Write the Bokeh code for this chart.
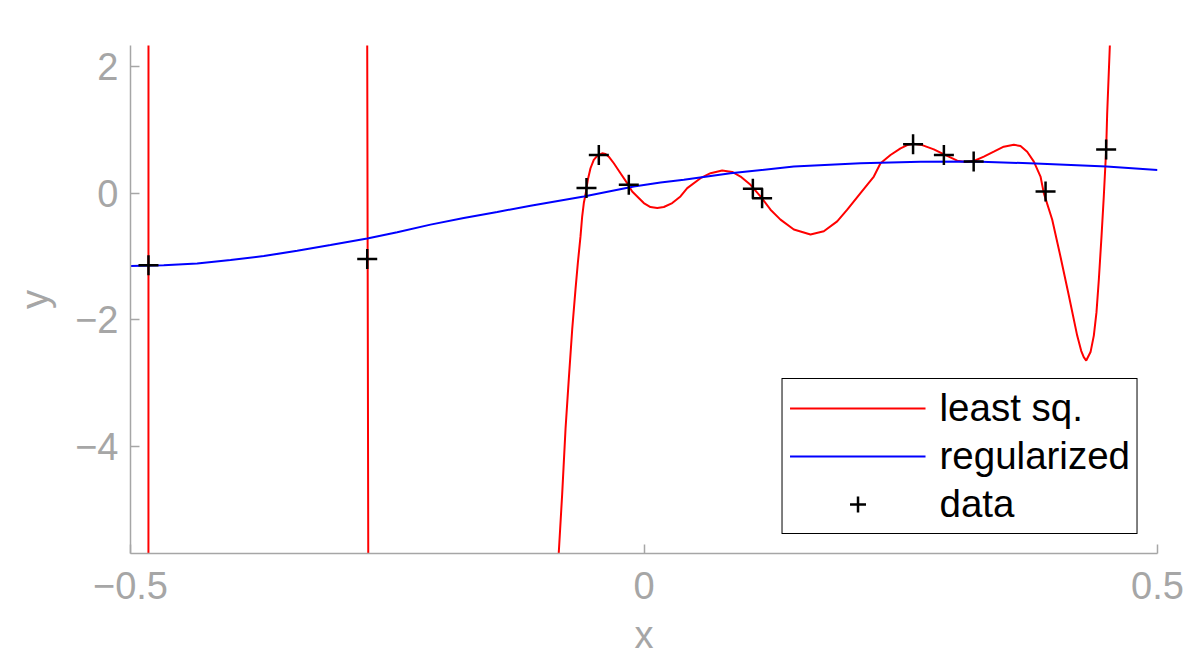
from bokeh.plotting import figure
from bokeh.models import FixedTicker, Range1d, Legend, LegendItem
from bokeh.embed import file_html
from bokeh.resources import INLINE

# ---- data ----
data_x = [-0.4825, -0.2695, -0.0560, -0.0440, -0.0148, 0.1060, 0.1150, 0.2620, 0.2920, 0.3210, 0.3910, 0.4500]
data_y = [-1.14, -1.04, 0.08, 0.60, 0.13, 0.07, -0.08, 0.77, 0.60, 0.50, 0.025, 0.69]

lsq_x = [-0.48255, -0.48245, -0.27046, -0.26796, -0.0845,
         -0.0830, -0.0797, -0.0764, -0.0732, -0.0699, -0.0667, -0.0644, -0.0618, -0.0602, -0.0586,
         -0.0570, -0.0547, -0.0521, -0.0489, -0.0456, -0.0407, -0.0375, -0.0343, -0.0294, -0.0229,
         -0.0164, -0.0115, -0.0066, -0.0002, 0.0063, 0.0129, 0.0193, 0.0275, 0.0355, 0.0421,
         0.0550, 0.0648, 0.0761, 0.0859, 0.0940, 0.1037, 0.1134, 0.1232, 0.1329, 0.1459,
         0.1621, 0.1751, 0.1881, 0.1979, 0.2108, 0.2238, 0.2303, 0.2400, 0.2498, 0.2563,
         0.2627, 0.2709, 0.2822, 0.2952, 0.3050, 0.3130, 0.3212, 0.3309, 0.3406, 0.3503,
         0.3601, 0.3666, 0.3731, 0.3796, 0.3861, 0.3893, 0.3975, 0.4055, 0.4137, 0.4218,
         0.4257, 0.4282, 0.4306, 0.4348, 0.4380, 0.4406, 0.4429, 0.4455, 0.4477, 0.4500,
         0.4510, 0.4536, 0.4560]
lsq_y = [-10.0, 10.0, 10.0, -10.0, -8.0,
         -5.68, -4.76, -3.72, -2.93, -2.15, -1.52, -1.10, -0.68, -0.37, -0.157,
         -0.027, 0.209, 0.392, 0.523, 0.586, 0.628, 0.617, 0.575, 0.471, 0.314,
         0.157, 0.025, -0.053, -0.157, -0.220, -0.236, -0.220, -0.157, -0.053, 0.078,
         0.235, 0.314, 0.355, 0.334, 0.261, 0.130, -0.053, -0.262, -0.419, -0.576,
         -0.655, -0.603, -0.446, -0.262, 0.0, 0.261, 0.471, 0.601, 0.706, 0.758,
         0.779, 0.758, 0.691, 0.586, 0.512, 0.491, 0.507, 0.575, 0.653, 0.732,
         0.763, 0.743, 0.653, 0.496, 0.261, 0.0, -0.42, -1.0, -1.62, -2.25,
         -2.49, -2.59, -2.644, -2.51, -2.25, -1.88, -1.36, -0.68, -0.053, 0.68,
         1.256, 2.33, 4.0]

reg_x = [-0.5, -0.4676, -0.4351, -0.4026, -0.3702, -0.3377, -0.3053, -0.2695, -0.2403, -0.2079,
         -0.1755, -0.1429, -0.1105, -0.0586, -0.0099, 0.0161, 0.0388, 0.0842, 0.1459, 0.2108,
         0.2692, 0.3208, 0.3812, 0.4503, 0.5]
reg_y = [-1.152, -1.141, -1.110, -1.058, -0.995, -0.910, -0.820, -0.717, -0.618, -0.498,
         -0.392, -0.299, -0.199, -0.053, 0.104, 0.166, 0.209, 0.314, 0.418, 0.471,
         0.496, 0.499, 0.468, 0.418, 0.366]

x_ticks = [-0.5, 0, 0.5]
x_tick_labels = ["\u22120.5", "0", "0.5"]
y_ticks = [-4, -2, 0, 2]
y_tick_labels = ["\u22124", "\u22122", "0", "2"]

GRAY = "#a6a6a6"
FONT = "Liberation Sans"

p = figure(width=1192, height=658, output_backend="svg", toolbar_location=None,
           x_range=Range1d(-0.5, 0.5), y_range=Range1d(-5.69, 2.33),
           min_border_left=130, min_border_right=35, min_border_top=45, min_border_bottom=102)
p.outline_line_color = None
p.xgrid.visible = False
p.ygrid.visible = False

r1 = p.line(lsq_x, lsq_y, line_color="#ff0000", line_width=2)
r2 = p.line(reg_x, reg_y, line_color="#0000ff", line_width=2)
r3 = p.scatter(data_x, data_y, marker="cross", size=20, line_width=2.5, line_color="black")

for ax, ticks, labels in ((p.xaxis[0], x_ticks, x_tick_labels), (p.yaxis[0], y_ticks, y_tick_labels)):
    ax.ticker = FixedTicker(ticks=ticks)
    ax.major_label_overrides = {t: l for t, l in zip(ticks, labels)}
    ax.axis_line_color = GRAY
    ax.axis_line_width = 1.5
    ax.major_tick_line_color = GRAY
    ax.major_tick_line_width = 1.5
    ax.major_tick_in = 9
    ax.major_tick_out = 0
    ax.minor_tick_line_color = None
    ax.major_label_text_color = GRAY
    ax.major_label_text_font = FONT
    ax.major_label_text_font_size = "38px"
    ax.axis_label_text_color = GRAY
    ax.axis_label_text_font = FONT
    ax.axis_label_text_font_size = "38px"
    ax.axis_label_text_font_style = "normal"

p.xaxis.major_label_standoff = 18
p.yaxis.major_label_standoff = 12
p.xaxis.axis_label = "x"
p.xaxis.axis_label_standoff = 12
p.yaxis.axis_label = "y"
p.yaxis.axis_label_standoff = 16

legend = Legend(items=[LegendItem(label="least sq.", renderers=[r1]),
                       LegendItem(label="regularized", renderers=[r2]),
                       LegendItem(label="data", renderers=[r3])],
                location="bottom_right")
legend.margin = 19
legend.padding = 7
legend.spacing = 4
legend.glyph_width = 136
legend.glyph_height = 40
legend.label_height = 40
legend.label_standoff = 14
legend.label_text_font = FONT
legend.label_text_font_size = "38.5px"
legend.label_text_color = "black"
legend.border_line_color = "black"
legend.border_line_alpha = 1.0
legend.border_line_width = 1.5
legend.background_fill_color = "white"
legend.background_fill_alpha = 1.0
p.add_layout(legend, "center")

open("out.html", "w").write(file_html(p, INLINE))
